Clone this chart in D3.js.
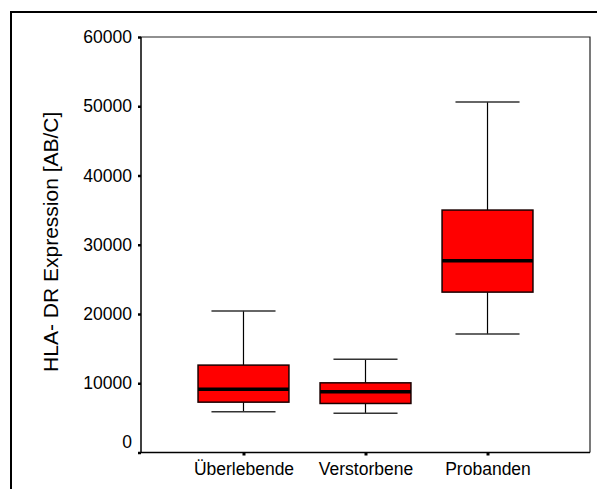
<!DOCTYPE html>
<html>
<head>
<meta charset="utf-8">
<script src="https://cdn.jsdelivr.net/npm/d3@7"></script>
<style>
  html, body { margin: 0; padding: 0; background: #fff; }
  svg { display: block; }
  text { font-family: "Liberation Sans", Arial, sans-serif; fill: #000; }
</style>
</head>
<body>
<svg id="chart" width="597" height="489"></svg>
<script>
// Groups and their box-plot statistics (HLA-DR expression, AB/C)
const categories = ["Überlebende", "Verstorbene", "Probanden"];
const whiskerLow  = [5870, 5680, 17100];
const quartile1   = [7270, 7080, 23160];
const medians     = [9150, 8760, 27690];
const quartile3   = [12620, 10060, 35010];
const whiskerHigh = [20450, 13480, 50620];
const yTicks = [0, 10000, 20000, 30000, 40000, 50000, 60000];
const yTitle = "HLA- DR Expression [AB/C]";

const groups = categories.map((c, i) => ({
  name: c,
  lo: whiskerLow[i], q1: quartile1[i], med: medians[i],
  q3: quartile3[i], hi: whiskerHigh[i]
}));

const svg = d3.select("#chart");
const plot = { left: 141, right: 590, top: 37, bottom: 452.5 };

// Outer frame around the whole figure
svg.append("rect")
  .attr("x", 11).attr("y", 12)
  .attr("width", 600).attr("height", 500)
  .attr("fill", "none").attr("stroke", "#000").attr("stroke-width", 2);

const x = d3.scalePoint()
  .domain(categories)
  .range([plot.left, plot.right])
  .padding(0.84);

const y = d3.scaleLinear()
  .domain([0, 60000])
  .range([plot.bottom, plot.top]);

const step = x.step();
const boxW = step * 0.745;
const capW = step * 0.525;

// Plot-area border (top and right)
svg.append("path")
  .attr("d", `M${plot.left},${plot.top}H${plot.right}V${plot.bottom}`)
  .attr("fill", "none").attr("stroke", "#222").attr("stroke-width", 1.2);

// Boxes
const g = svg.append("g");
const box = g.selectAll("g.box").data(groups).join("g").attr("class", "box");

// whisker stems
box.append("line")
  .attr("x1", d => x(d.name)).attr("x2", d => x(d.name))
  .attr("y1", d => y(d.hi)).attr("y2", d => y(d.q3))
  .attr("stroke", "#000").attr("stroke-width", 1.2);
box.append("line")
  .attr("x1", d => x(d.name)).attr("x2", d => x(d.name))
  .attr("y1", d => y(d.q1)).attr("y2", d => y(d.lo))
  .attr("stroke", "#000").attr("stroke-width", 1.2);

// whisker caps
box.append("line")
  .attr("x1", d => x(d.name) - capW / 2).attr("x2", d => x(d.name) + capW / 2)
  .attr("y1", d => y(d.hi)).attr("y2", d => y(d.hi))
  .attr("stroke", "#333").attr("stroke-width", 1.5);
box.append("line")
  .attr("x1", d => x(d.name) - capW / 2).attr("x2", d => x(d.name) + capW / 2)
  .attr("y1", d => y(d.lo)).attr("y2", d => y(d.lo))
  .attr("stroke", "#333").attr("stroke-width", 1.5);

// interquartile box
box.append("rect")
  .attr("x", d => x(d.name) - boxW / 2)
  .attr("y", d => y(d.q3))
  .attr("width", boxW)
  .attr("height", d => y(d.q1) - y(d.q3))
  .attr("fill", "#ff0000")
  .attr("stroke", "#1a0000").attr("stroke-width", 1.5);

// median
box.append("line")
  .attr("x1", d => x(d.name) - boxW / 2).attr("x2", d => x(d.name) + boxW / 2)
  .attr("y1", d => y(d.med)).attr("y2", d => y(d.med))
  .attr("stroke", "#000").attr("stroke-width", 3.5);

// Y axis
const yAxis = svg.append("g")
  .attr("transform", `translate(${plot.left},0)`)
  .call(d3.axisLeft(y).tickValues(yTicks).tickSize(3).tickPadding(6).tickFormat(d3.format("d")));
yAxis.select(".domain").attr("stroke", "#000").attr("stroke-width", 1.5)
  .attr("d", `M0,${plot.top}V${plot.bottom}`);
yAxis.selectAll(".tick line").attr("stroke", "#000").attr("stroke-width", 2.5);
yAxis.selectAll(".tick text")
  .style("font-size", "17.5px")
  .attr("fill", "#000")
  .attr("dy", d => d === 0 ? "-0.28em" : "0.32em");

// X axis
const xAxis = svg.append("g")
  .attr("transform", `translate(0,${plot.bottom})`)
  .call(d3.axisBottom(x).tickSize(3).tickPadding(6));
xAxis.select(".domain").attr("stroke", "#000").attr("stroke-width", 1.5)
  .attr("d", `M${plot.left},0H${plot.right}`);
xAxis.selectAll(".tick line").attr("stroke", "#000").attr("stroke-width", 3);
xAxis.selectAll(".tick text")
  .style("font-size", "17.5px")
  .attr("fill", "#000")
  .attr("y", 10).attr("dy", "0.71em");

// Y axis title
svg.append("text")
  .attr("transform", `translate(58,${(plot.top + plot.bottom) / 2 - 3}) rotate(-90)`)
  .attr("text-anchor", "middle")
  .style("font-size", "21px")
  .text(yTitle);
</script>
</body>
</html>
